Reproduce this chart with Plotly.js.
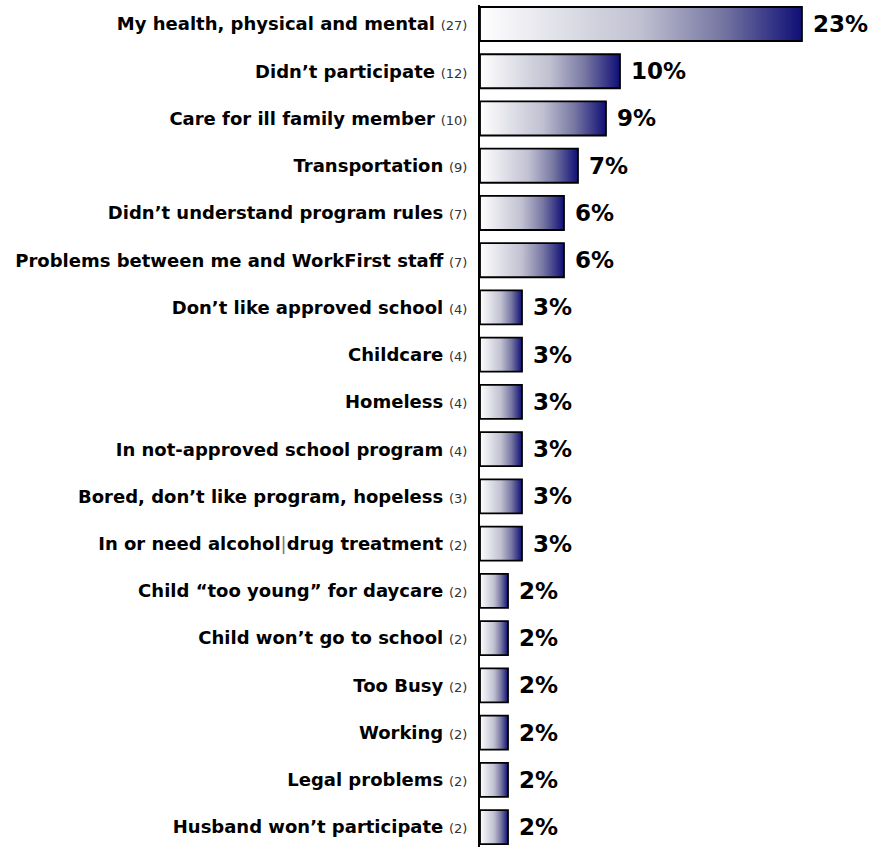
<!DOCTYPE html>
<html>
<head>
<meta charset="utf-8">
<script src="https://cdn.plot.ly/plotly-3.0.1.min.js"></script>
<style>html,body{margin:0;padding:0;background:#fff;}</style>
</head>
<body>
<div id="chart" style="width:869px;height:847px;"></div>
<script>
const categories = [
  "My health, physical and mental",
  "Didn’t participate",
  "Care for ill family member",
  "Transportation",
  "Didn’t understand program rules",
  "Problems between me and WorkFirst staff",
  "Don’t like approved school",
  "Childcare",
  "Homeless",
  "In not-approved school program",
  "Bored, don’t like program, hopeless",
  "In or need alcohol|drug treatment",
  "Child “too young” for daycare",
  "Child won’t go to school",
  "Too Busy",
  "Working",
  "Legal problems",
  "Husband won’t participate"
];
const counts = [27, 12, 10, 9, 7, 7, 4, 4, 4, 4, 3, 2, 2, 2, 2, 2, 2, 2];
const percents = [23, 10, 9, 7, 6, 6, 3, 3, 3, 3, 3, 3, 2, 2, 2, 2, 2, 2];

const gradientScale = [[0, '#ffffff'], [0.5, '#c0c0d1'], [0.75, '#7777a3'], [1, '#0f0f76']];
const halfBar = 0.36;

const idx = categories.map((c, i) => i);
const tickText = categories.map((c, i) => {
  const parts = c.split('|').map(p => '<b>' + p + '</b>');
  return parts.join('<span style="color:#777">|</span>') +
    ' <span style="font-size:13px;color:#333">(' + counts[i] + ')</span>';
});

const traces = [];
// invisible bar trace carrying the percent labels
traces.push({
  type: 'bar', orientation: 'h',
  x: percents, y: idx, width: halfBar * 2,
  marker: {color: 'rgba(0,0,0,0)', line: {width: 0}},
  text: percents.map(p => '\u00a0' + p + '%'),
  textposition: 'outside', cliponaxis: false,
  textfont: {family: 'DejaVu Sans', size: 23, color: '#000', weight: 'bold'},
  hoverinfo: 'skip', showlegend: false
});
// gradient-filled bars
percents.forEach((v, i) => {
  traces.push({
    type: 'scatter', mode: 'lines',
    x: [0, v, v, 0, 0],
    y: [i - halfBar, i - halfBar, i + halfBar, i + halfBar, i - halfBar],
    fill: 'toself',
    fillgradient: {type: 'horizontal', start: 0, stop: v, colorscale: gradientScale},
    line: {color: '#000', width: 1.8},
    hoverinfo: 'skip', showlegend: false
  });
});

const layout = {
  width: 869, height: 847,
  margin: {l: 480, r: 0, t: 5, b: 0},
  paper_bgcolor: '#fff', plot_bgcolor: '#fff',
  showlegend: false,
  xaxis: {range: [0, 27.79], showticklabels: false, showgrid: false, zeroline: false, showline: false, ticks: ''},
  yaxis: {
    range: [17.42, -0.402], tickvals: idx, ticktext: tickText,
    tickfont: {family: 'DejaVu Sans', size: 18, color: '#000'},
    showline: true, linecolor: '#000', linewidth: 2, mirror: false,
    ticks: '', showgrid: false, zeroline: false, ticklabelstandoff: 7
  }
};
Plotly.newPlot('chart', traces, layout, {displayModeBar: false, staticPlot: true});
</script>
</body>
</html>
